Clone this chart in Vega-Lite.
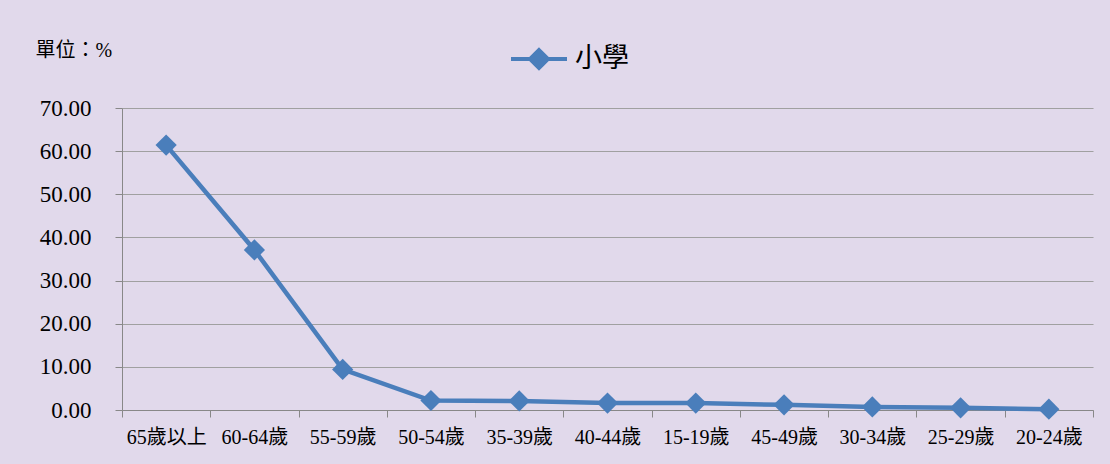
{
  "$schema": "https://vega.github.io/schema/vega-lite/v6.json",
  "width": 971,
  "height": 302,
  "padding": {"left": 35, "top": 29, "right": 17, "bottom": 20},
  "background": "#E1D9EB",
  "data": {
    "values": [
      {"age": "65歲以上", "value": 61.4, "series": "小學"},
      {"age": "60-64歲", "value": 37.1, "series": "小學"},
      {"age": "55-59歲", "value": 9.4, "series": "小學"},
      {"age": "50-54歲", "value": 2.2, "series": "小學"},
      {"age": "35-39歲", "value": 2.1, "series": "小學"},
      {"age": "40-44歲", "value": 1.6, "series": "小學"},
      {"age": "15-19歲", "value": 1.6, "series": "小學"},
      {"age": "45-49歲", "value": 1.2, "series": "小學"},
      {"age": "30-34歲", "value": 0.7, "series": "小學"},
      {"age": "25-29歲", "value": 0.5, "series": "小學"},
      {"age": "20-24歲", "value": 0.2, "series": "小學"}
    ]
  },
  "mark": {
    "type": "line",
    "strokeWidth": 4.5,
    "point": {"shape": "diamond", "size": 450, "filled": true}
  },
  "encoding": {
    "x": {
      "field": "age",
      "type": "ordinal",
      "sort": null,
      "scale": {"type": "band", "paddingInner": 0, "paddingOuter": 0},
      "axis": {
        "title": null,
        "labelAngle": 0,
        "tickBand": "extent",
        "labelFont": "Liberation Serif, Noto Sans CJK TC",
        "labelFontSize": 20,
        "labelColor": "#000000",
        "labelPadding": 10,
        "tickSize": 7,
        "tickColor": "#888888",
        "domainColor": "#888888",
        "grid": false
      }
    },
    "y": {
      "field": "value",
      "type": "quantitative",
      "scale": {"domain": [0, 70]},
      "axis": {
        "title": "單位：%",
        "titleAngle": 0,
        "titleAlign": "left",
        "titleBaseline": "alphabetic",
        "titleX": -87,
        "titleY": -52,
        "titleFont": "Liberation Serif, Noto Sans CJK TC",
        "titleFontSize": 20,
        "titleFontWeight": "normal",
        "titleColor": "#000000",
        "values": [0, 10, 20, 30, 40, 50, 60, 70],
        "format": ".2f",
        "labelFont": "Liberation Serif",
        "labelFontSize": 23,
        "labelColor": "#000000",
        "labelPadding": 24,
        "tickSize": 7,
        "tickColor": "#888888",
        "domainColor": "#888888",
        "gridColor": "#A0A0A0",
        "gridWidth": 1.2
      }
    },
    "color": {
      "field": "series",
      "type": "nominal",
      "scale": {"range": ["#4A7EBB"]},
      "legend": {
        "title": null,
        "orient": "none",
        "legendX": 387,
        "legendY": -79,
        "symbolType": "M-1,0L1,0M0,-0.32L0.32,0L0,0.32L-0.32,0Z",
        "symbolSize": 3136,
        "symbolStrokeWidth": 4,
        "symbolFillColor": "#4A7EBB",
        "symbolStrokeColor": "#4A7EBB",
        "labelFont": "Liberation Serif, Noto Sans CJK TC",
        "labelFontSize": 27,
        "labelColor": "#000000",
        "labelOffset": 6
      }
    }
  },
  "config": {
    "view": {"stroke": null}
  }
}
